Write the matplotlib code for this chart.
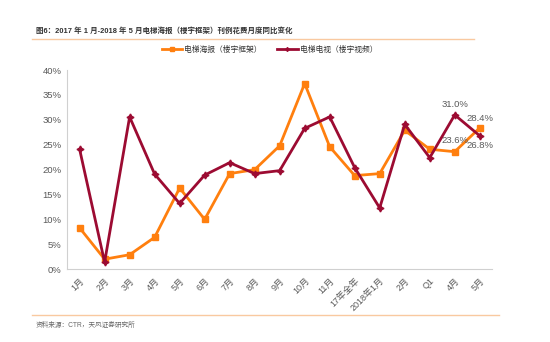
import matplotlib.pyplot as plt
from matplotlib.lines import Line2D

plt.rcParams['font.family'] = ['Liberation Sans', 'Noto Sans CJK SC', 'DejaVu Sans']

labels = ["1月", "2月", "3月", "4月", "5月", "6月", "7月", "8月", "9月", "10月", "11月",
          "17年全年", "2018年1月", "2月", "Q1", "4月", "5月"]
poster = [8.3, 2.0, 2.9, 6.4, 16.3, 10.0, 19.2, 20.0, 24.8, 37.3, 24.6,
          18.8, 19.2, 27.9, 24.1, 23.6, 28.4]
tv = [24.1, 1.4, 30.6, 19.1, 13.2, 18.9, 21.4, 19.2, 19.8, 28.3, 30.6,
      20.4, 12.3, 29.1, 22.4, 31.0, 26.8]
yticks = [0, 5, 10, 15, 20, 25, 30, 35, 40]

orange = "#FF7F0E"
red = "#9C0B32"
gray = "#595959"

fig = plt.figure(figsize=(5.5, 3.42), dpi=100)
ax = fig.add_axes([0.122, 0.213, 0.773, 0.582])

x = list(range(len(labels)))
ax.plot(x, poster, color=orange, lw=2, marker="s", ms=4)
ax.plot(x, tv, color=red, lw=2, marker=(4, 1, 0), ms=5)

ax.set_xlim(-0.5, len(labels) - 0.5)
ax.set_ylim(0, 40)
ax.set_yticks(yticks)
ax.set_yticklabels([f"{v}%" for v in yticks], fontsize=6.8, color=gray)
ax.set_xticks(x)
ax.set_xticklabels(labels, rotation=45, ha="right", rotation_mode="anchor", fontsize=6.5, color=gray)
ax.tick_params(axis="y", length=0, pad=4)
ax.tick_params(axis="x", length=0, pad=5)
for s in ["top", "right"]:
    ax.spines[s].set_visible(False)
for s in ["left", "bottom"]:
    ax.spines[s].set_color("#D0D0D0")

# value labels on the last points
ax.annotate(f"{tv[15]:.1f}%", (15, tv[15]), xytext=(0, 6), textcoords="offset points",
            ha="center", fontsize=6.8, color=gray)
ax.annotate(f"{poster[16]:.1f}%", (16, poster[16]), xytext=(0, 5), textcoords="offset points",
            ha="center", fontsize=6.8, color=gray)
ax.annotate(f"{poster[15]:.1f}%", (15, poster[15]), xytext=(0, 6), textcoords="offset points",
            ha="center", fontsize=6.8, color=gray)
ax.annotate(f"{tv[16]:.1f}%", (16, tv[16]), xytext=(0, -4), textcoords="offset points",
            ha="center", va="top", fontsize=6.8, color=gray)

handles = [Line2D([], [], color=orange, lw=2, marker="s", ms=3),
           Line2D([], [], color=red, lw=2, marker=(4, 1, 0), ms=3)]
fig.legend(handles, ["电梯海报（楼宇框架）", "电梯电视（楼宇视频）"], loc="center",
           bbox_to_anchor=(0.49, 0.854), ncol=2, frameon=False, fontsize=5.6,
           handlelength=2.6, handletextpad=0.3, columnspacing=2.0, labelcolor="#333333")

fig.text(0.065, 0.905, "图6：2017 年 1 月-2018 年 5 月电梯海报（楼宇框架）刊例花费月度同比变化",
         fontsize=5.4, color="#333333", fontweight="bold")
fig.add_artist(Line2D([0.058, 0.862], [0.886, 0.886], color="#F9C9A0", lw=1))
fig.add_artist(Line2D([0.058, 0.908], [0.079, 0.079], color="#F9C9A0", lw=1))
fig.text(0.065, 0.045, "资料来源：CTR，天风证券研究所", fontsize=4.8, color="#666666")

fig.savefig("out.png", dpi=100)
